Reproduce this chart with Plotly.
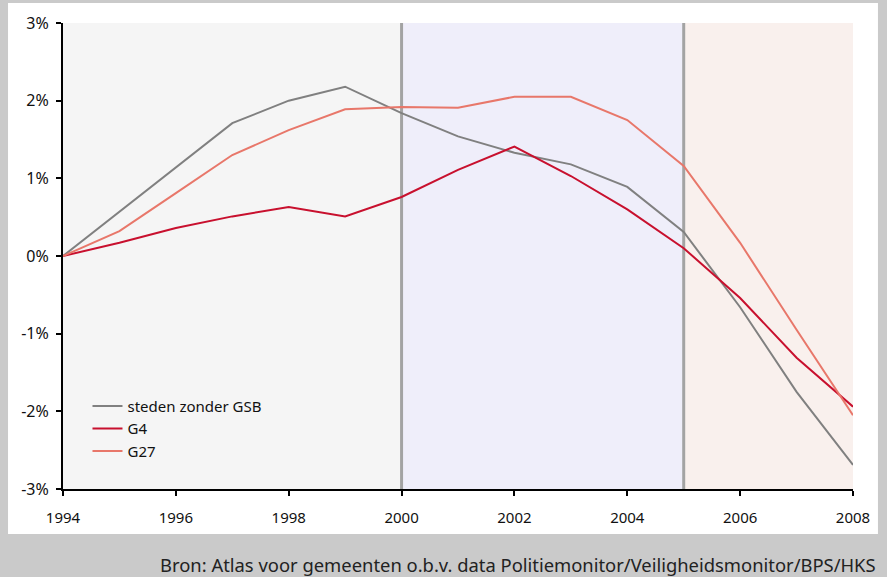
import plotly.graph_objects as go

years = list(range(1994, 2009))
steden_zonder_gsb = [0.0, 0.57, 1.14, 1.71, 2.00, 2.18, 1.84, 1.54, 1.33, 1.18, 0.89, 0.31, -0.66, -1.75, -2.69]
g4 = [0.0, 0.17, 0.36, 0.51, 0.63, 0.51, 0.76, 1.11, 1.41, 1.03, 0.60, 0.10, -0.54, -1.31, -1.94]
g27 = [0.0, 0.32, 0.81, 1.30, 1.62, 1.89, 1.92, 1.91, 2.05, 2.05, 1.75, 1.16, 0.17, -0.95, -2.05]

series_names = ["steden zonder GSB", "G4", "G27"]
series_colors = ["#808080", "#c8102e", "#e8776a"]

y_ticks = [-3, -2, -1, 0, 1, 2, 3]
y_ticklabels = ["-3%", "-2%", "-1%", "0%", "1%", "2%", "3%"]
x_ticks = [1994, 1996, 1998, 2000, 2002, 2004, 2006, 2008]

periods = [(1994, 2000, "#f5f5f5"), (2000, 2005, "#efeefa"), (2005, 2008, "#f9f0ed")]
dividers = [2000, 2005]

source = "Bron: Atlas voor gemeenten o.b.v. data Politiemonitor/Veiligheidsmonitor/BPS/HKS"

FONT = "Noto Sans"

fig = go.Figure()
for name, vals, col in zip(series_names, [steden_zonder_gsb, g4, g27], series_colors):
    fig.add_trace(go.Scatter(x=years, y=vals, mode="lines", name=name,
                             line=dict(color=col, width=2)))

shapes = [dict(type="rect", xref="paper", yref="paper", x0=-0.0696, x1=1.0316,
               y0=-0.0966, y1=1.0429, fillcolor="white", line=dict(width=0), layer="below")]
for x0, x1, c in periods:
    shapes.append(dict(type="rect", xref="x", yref="y", x0=x0, x1=x1, y0=-3, y1=3,
                       fillcolor=c, line=dict(width=0), layer="below"))
for d in dividers:
    shapes.append(dict(type="line", xref="x", yref="y", x0=d, x1=d, y0=-3, y1=3,
                       line=dict(color="#a3a3a3", width=3), layer="below"))

fig.update_layout(
    width=887, height=577,
    margin=dict(l=63, r=34, t=23, b=88),
    paper_bgcolor="#cacaca",
    plot_bgcolor="rgba(0,0,0,0)",
    font=dict(family=FONT, size=15, color="#111111"),
    shapes=shapes,
    showlegend=True,
    legend=dict(x=0.031, y=0.213, xanchor="left", yanchor="top",
                bgcolor="rgba(0,0,0,0)", font=dict(size=15, color="#111111"),
                itemwidth=30, tracegroupgap=0),
    annotations=[dict(text=source, xref="paper", yref="paper", x=1.0316, y=-0.163,
                      xanchor="right", yanchor="middle", showarrow=False,
                      font=dict(size=18.4, color="#222222", family=FONT))],
)
fig.update_xaxes(range=[1994, 2008], tickvals=x_ticks, ticks="outside", ticklen=5,
                 tickwidth=2, tickcolor="black", showline=True, linecolor="black",
                 linewidth=2, showgrid=False, zeroline=False, fixedrange=True,
                 ticklabelstandoff=9)
fig.update_yaxes(range=[-3, 3], tickvals=y_ticks, ticktext=y_ticklabels, ticks="outside",
                 ticklen=5, tickwidth=2, tickcolor="black", showline=True,
                 linecolor="black", linewidth=2, showgrid=False, zeroline=False,
                 fixedrange=True, tickfont=dict(size=16), ticklabelstandoff=4)

fig.write_html("out.html", config={"displayModeBar": False},
               post_script="document.body.style.margin='0';")
